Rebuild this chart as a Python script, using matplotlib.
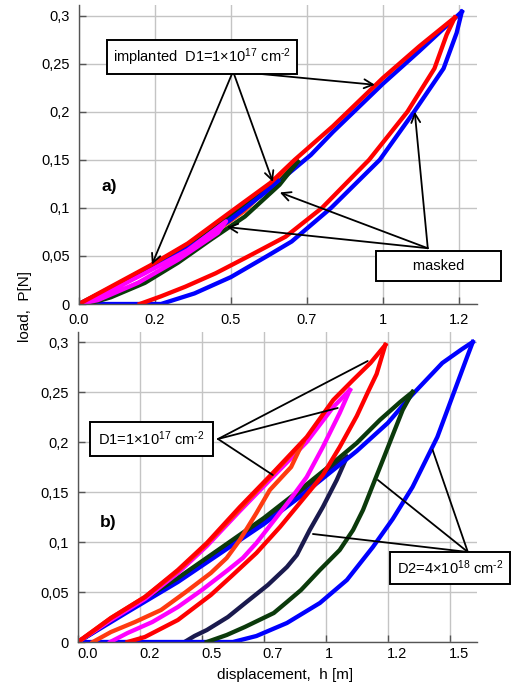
import matplotlib
matplotlib.use("Agg")
import matplotlib.pyplot as plt
from matplotlib.ticker import FixedLocator, FixedFormatter
from matplotlib.transforms import ScaledTranslation

plt.rcParams['font.family'] = ['Liberation Sans', 'DejaVu Sans']
plt.rcParams['mathtext.fontset'] = 'custom'
plt.rcParams['mathtext.rm'] = 'Liberation Sans'
plt.rcParams['mathtext.it'] = 'Liberation Sans:italic'
plt.rcParams['mathtext.bf'] = 'Liberation Sans:bold'

# ---------------- data: panel a) ----------------
a_red_load_h = [0, 0.105, 0.234, 0.358, 0.50, 0.63, 0.71, 0.836, 1.0, 1.12, 1.237]
a_red_load_p = [0, 0.018, 0.040, 0.063, 0.096, 0.126, 0.150, 0.185, 0.235, 0.268, 0.298]
a_red_unload_h = [1.237, 1.21, 1.17, 1.081, 0.955, 0.80, 0.68, 0.56, 0.45, 0.35, 0.27, 0.2]
a_red_unload_p = [0.298, 0.28, 0.245, 0.2, 0.15, 0.1, 0.07, 0.05, 0.032, 0.018, 0.008, 0.0]

a_blue_load_h = [0, 0.105, 0.234, 0.358, 0.50, 0.63, 0.763, 0.836, 1.0, 1.12, 1.26]
a_blue_load_p = [0, 0.016, 0.037, 0.060, 0.091, 0.120, 0.155, 0.179, 0.229, 0.263, 0.304]
a_blue_unload_h = [1.26, 1.243, 1.20, 1.103, 0.99, 0.83, 0.70, 0.62, 0.5, 0.38, 0.27, 0.0]
a_blue_unload_p = [0.304, 0.282, 0.245, 0.2, 0.15, 0.1, 0.065, 0.05, 0.028, 0.011, 0.0, 0.0]

a_bluesm_unload_h = [0.655, 0.6, 0.5, 0.4, 0.3, 0.2, 0.1, 0.0]
a_bluesm_unload_p = [0.128, 0.113, 0.088, 0.066, 0.047, 0.030, 0.014, 0.0]

a_green_load_h = [0, 0.105, 0.234, 0.358, 0.50, 0.63, 0.72]
a_green_load_p = [0, 0.017, 0.039, 0.062, 0.094, 0.124, 0.148]
a_green_unload_h = [0.72, 0.66, 0.546, 0.434, 0.326, 0.217, 0.105, 0.03]
a_green_unload_p = [0.148, 0.124, 0.091, 0.067, 0.043, 0.022, 0.007, 0.0]

a_orange_unload_h = [0.71, 0.65, 0.546, 0.434, 0.326, 0.217, 0.105, 0.02]
a_orange_unload_p = [0.150, 0.129, 0.096, 0.071, 0.047, 0.026, 0.010, 0.0]

a_mag_h = [0, 0.1, 0.217, 0.358, 0.484, 0.457, 0.326, 0.194, 0.062, 0.0]
a_mag_p = [0, 0.013, 0.032, 0.056, 0.086, 0.074, 0.046, 0.022, 0.004, 0.0]

# ---------------- data: panel b) ----------------
b_red_load_h = [0, 0.133, 0.27, 0.403, 0.52, 0.653, 0.786, 0.923, 1.03, 1.11, 1.18, 1.24]
b_red_load_p = [0, 0.024, 0.045, 0.072, 0.099, 0.135, 0.169, 0.205, 0.242, 0.262, 0.279, 0.297]
b_red_unload_h = [1.24, 1.205, 1.17, 1.125, 1.056, 0.988, 0.895, 0.815, 0.72, 0.62, 0.536, 0.403, 0.27, 0.2]
b_red_unload_p = [0.297, 0.268, 0.25, 0.226, 0.195, 0.167, 0.139, 0.115, 0.089, 0.066, 0.047, 0.022, 0.005, 0.0]

b_mag_load_h = [0, 0.133, 0.27, 0.403, 0.52, 0.653, 0.786, 0.923, 1.03, 1.097]
b_mag_load_p = [0, 0.022, 0.043, 0.069, 0.096, 0.131, 0.165, 0.200, 0.235, 0.252]
b_mag_unload_h = [1.097, 1.056, 0.988, 0.923, 0.855, 0.786, 0.72, 0.665, 0.605, 0.5, 0.403, 0.3, 0.2, 0.13]
b_mag_unload_p = [0.252, 0.229, 0.195, 0.165, 0.142, 0.12, 0.099, 0.084, 0.072, 0.052, 0.035, 0.02, 0.009, 0.0]

b_orange_load_h = [0, 0.133, 0.27, 0.403, 0.52, 0.653, 0.786, 0.908]
b_orange_load_p = [0, 0.024, 0.045, 0.071, 0.098, 0.133, 0.168, 0.200]
b_orange_unload_h = [0.908, 0.86, 0.774, 0.72, 0.653, 0.6, 0.536, 0.435, 0.335, 0.23, 0.133, 0.06]
b_orange_unload_p = [0.200, 0.175, 0.152, 0.129, 0.102, 0.084, 0.069, 0.05, 0.032, 0.02, 0.01, 0.0]

b_green_load_h = [0, 0.2, 0.403, 0.6, 0.75, 0.9, 1.0, 1.125, 1.218, 1.3, 1.35]
b_green_load_p = [0, 0.033, 0.064, 0.098, 0.124, 0.153, 0.173, 0.199, 0.222, 0.240, 0.250]
b_green_unload_h = [1.35, 1.31, 1.27, 1.235, 1.198, 1.15, 1.11, 1.056, 0.976, 0.9, 0.843, 0.79, 0.673, 0.6, 0.52]
b_green_unload_p = [0.25, 0.232, 0.207, 0.185, 0.162, 0.132, 0.112, 0.092, 0.072, 0.052, 0.04, 0.029, 0.015, 0.007, 0.0]

b_navy_load_h = [0, 0.2, 0.403, 0.6, 0.75, 0.9, 1.0, 1.085]
b_navy_load_p = [0, 0.032, 0.063, 0.097, 0.122, 0.151, 0.171, 0.185]
b_navy_unload_h = [1.085, 1.044, 0.988, 0.935, 0.883, 0.843, 0.766, 0.68, 0.605, 0.52, 0.47, 0.43]
b_navy_unload_p = [0.185, 0.162, 0.135, 0.112, 0.087, 0.075, 0.057, 0.04, 0.025, 0.012, 0.006, 0.0]

b_blue_load_h = [0, 0.2, 0.403, 0.6, 0.75, 0.9, 1.0, 1.125, 1.25, 1.34, 1.47, 1.55, 1.593]
b_blue_load_p = [0, 0.030, 0.060, 0.093, 0.118, 0.146, 0.166, 0.191, 0.219, 0.245, 0.279, 0.293, 0.300]
b_blue_unload_h = [1.593, 1.57, 1.51, 1.45, 1.40, 1.35, 1.27, 1.19, 1.085, 0.976, 0.843, 0.72, 0.625, 0.0]
b_blue_unload_p = [0.300, 0.285, 0.245, 0.205, 0.18, 0.155, 0.123, 0.095, 0.062, 0.039, 0.019, 0.006, 0.0, 0.0]

# ticks
y_ticks = [0, 0.05, 0.1, 0.15, 0.2, 0.25, 0.3]
y_labels = ['0', '0,05', '0,1', '0,15', '0,2', '0,25', '0,3']
a_x_ticks = [0, 0.25, 0.5, 0.75, 1.0, 1.25]
a_x_labels = ['0.0', '0.2', '0.5', '0.7', '1', '1.2']
b_x_ticks = [0, 0.25, 0.5, 0.75, 1.0, 1.25, 1.5]
b_x_labels = ['0.0', '0.2', '0.5', '0.7', '1', '1.2', '1.5']

RED = '#ff0000'
BLUE = '#0000ff'
MAG = '#ff00ff'
GREEN = '#0b3a0b'
NAVY = '#1a1a4e'
ORANGE = '#ff3a10'
LW = 3.1

fig = plt.figure(figsize=(5.23, 6.84), dpi=100)
ax1 = fig.add_axes([79/523, 1-304/684, 398/523, 299/684])
ax2 = fig.add_axes([78/523, 1-642/684, 399/523, 310/684])

def style(ax, xt, xl, xmax, ymax, left_labels=False, xpad=6.5):
    ax.set_xlim(0, xmax)
    ax.set_ylim(0, ymax)
    ax.xaxis.set_major_locator(FixedLocator(xt))
    ax.xaxis.set_major_formatter(FixedFormatter(xl))
    ax.yaxis.set_major_locator(FixedLocator(y_ticks))
    ax.yaxis.set_major_formatter(FixedFormatter(y_labels))
    ax.grid(True, color='#c4c4c4', lw=1.0)
    ax.set_axisbelow(True)
    for s in ['top', 'right']:
        ax.spines[s].set_visible(False)
    for s in ['left', 'bottom']:
        ax.spines[s].set_color('#555555')
        ax.spines[s].set_linewidth(1.0)
    ax.tick_params(axis='both', direction='in', length=5, width=1.0, color='#555555',
                   labelsize=10.5, labelcolor='black')
    ax.tick_params(axis='y', pad=6.5)
    ax.tick_params(axis='x', pad=xpad)
    if left_labels:
        for lab in ax.get_xticklabels():
            lab.set_horizontalalignment('left')
            lab.set_transform(lab.get_transform() + ScaledTranslation(-1/100, 0, fig.dpi_scale_trans))

style(ax1, a_x_ticks, a_x_labels, 1.31, 0.311)
style(ax2, b_x_ticks, b_x_labels, 1.61, 0.31, left_labels=True, xpad=3.5)

# panel a) curves
ax1.plot(a_blue_load_h, a_blue_load_p, color=BLUE, lw=LW)
ax1.plot(a_blue_unload_h, a_blue_unload_p, color=BLUE, lw=LW)
ax1.plot(a_green_load_h, a_green_load_p, color=GREEN, lw=LW)
ax1.plot(a_green_unload_h, a_green_unload_p, color=GREEN, lw=LW)
ax1.plot(a_orange_unload_h, a_orange_unload_p, color=ORANGE, lw=1.8)
ax1.plot(a_bluesm_unload_h, a_bluesm_unload_p, color=BLUE, lw=LW)
ax1.plot(a_mag_h, a_mag_p, color=MAG, lw=LW)
ax1.plot(a_red_load_h, a_red_load_p, color=RED, lw=LW)
ax1.plot(a_red_unload_h, a_red_unload_p, color=RED, lw=LW)

# panel b) curves
ax2.plot(b_navy_load_h, b_navy_load_p, color=NAVY, lw=LW)
ax2.plot(b_navy_unload_h, b_navy_unload_p, color=NAVY, lw=LW)
ax2.plot(b_blue_load_h, b_blue_load_p, color=BLUE, lw=LW)
ax2.plot(b_blue_unload_h, b_blue_unload_p, color=BLUE, lw=LW)
ax2.plot(b_green_load_h, b_green_load_p, color=GREEN, lw=LW)
ax2.plot(b_green_unload_h, b_green_unload_p, color=GREEN, lw=LW)
ax2.plot(b_mag_load_h, b_mag_load_p, color=MAG, lw=LW)
ax2.plot(b_mag_unload_h, b_mag_unload_p, color=MAG, lw=LW)
ax2.plot(b_orange_load_h, b_orange_load_p, color=ORANGE, lw=LW)
ax2.plot(b_orange_unload_h, b_orange_unload_p, color=ORANGE, lw=LW)
ax2.plot(b_red_load_h, b_red_load_p, color=RED, lw=LW)
ax2.plot(b_red_unload_h, b_red_unload_p, color=RED, lw=LW)

def pointers(ax, apex, targets, arrow):
    for t in targets:
        ax.annotate('', xy=t, xytext=apex,
                    arrowprops=dict(arrowstyle='->' if arrow else '-', color='black',
                                    lw=1.3, shrinkA=0, shrinkB=0, mutation_scale=16))

SUP2 = r'$^{\text{-}2}$'

# panel a annotations
pointers(ax1, (0.507, 0.242), [(0.974, 0.228), (0.240, 0.041), (0.638, 0.127)], True)
ax1.text(0.405, 0.257, 'implanted  D1=1×10$^{17}$ cm' + SUP2, ha='center', va='center',
         fontsize=10.5, bbox=dict(boxstyle='square,pad=0.4', fc='white', ec='black', lw=1.4), zorder=5)
pointers(ax1, (1.148, 0.058), [(1.105, 0.200), (0.661, 0.116), (0.487, 0.080)], True)
ax1.text(1.184, 0.040, '       masked       ', ha='center', va='center', fontsize=10.5,
         bbox=dict(boxstyle='square,pad=0.55', fc='white', ec='black', lw=1.4), zorder=5)
ax1.text(0.099, 0.122, 'a)', ha='center', va='center', fontsize=12.5, fontweight='bold')

# panel b annotations
pointers(ax2, (0.565, 0.203), [(1.169, 0.281), (1.048, 0.234), (0.786, 0.167)], False)
ax2.text(0.296, 0.203, 'D1=1×10$^{17}$ cm' + SUP2, ha='center', va='center',
         fontsize=10.5, bbox=dict(boxstyle='square,pad=0.55', fc='white', ec='black', lw=1.4), zorder=5)
pointers(ax2, (1.573, 0.090), [(1.431, 0.192), (1.21, 0.162), (0.948, 0.108)], False)
ax2.text(1.50, 0.074, 'D2=4×10$^{18}$ cm' + SUP2, ha='center', va='center',
         fontsize=10.5, bbox=dict(boxstyle='square,pad=0.45', fc='white', ec='black', lw=1.4), zorder=5)
ax2.text(0.121, 0.120, 'b)', ha='center', va='center', fontsize=12.5, fontweight='bold')

ax2.set_xlabel('displacement,  h [m]', fontsize=11, labelpad=2)
ax2.xaxis.set_label_coords(0.519, -0.085)
fig.text(25/523, 1-307/684, 'load,  P[N]', rotation=90, ha='center', va='center', fontsize=11)

fig.savefig('out.png', dpi=100)
